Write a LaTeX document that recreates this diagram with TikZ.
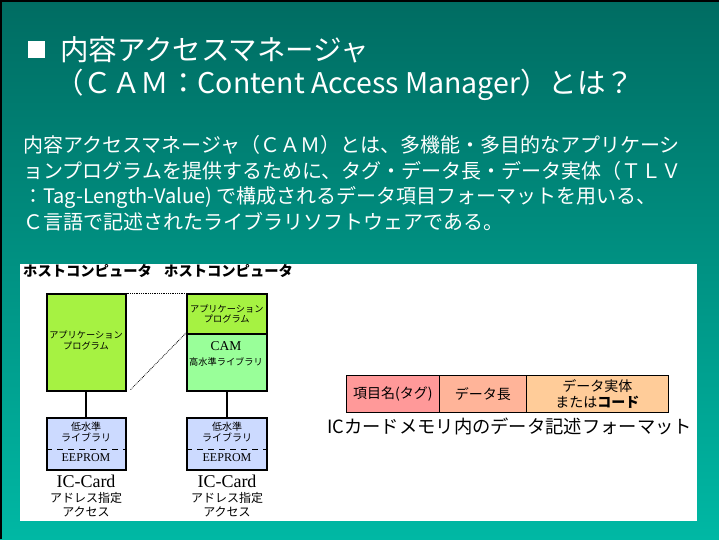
\documentclass[tikz,border=0pt]{standalone}
\usepackage{fontspec}
\setmainfont{Noto Sans CJK JP}
\newfontfamily\serifjp{Liberation Serif}
\usetikzlibrary{calc}
\definecolor{tealtop}{RGB}{0,108,98}
\definecolor{tealbot}{RGB}{0,184,164}
\definecolor{appgreen}{RGB}{166,242,66}
\definecolor{camgreen}{RGB}{153,255,153}
\definecolor{libblue}{RGB}{204,218,255}
\definecolor{tagpink}{RGB}{255,153,153}
\definecolor{lenpink}{RGB}{255,180,153}
\definecolor{valpeach}{RGB}{255,204,153}
\tikzset{
  boxbase/.style={draw=black, line width=1.6pt, inner sep=0pt, anchor=north west},
  appbox/.style={boxbase, fill=appgreen},
  cambox/.style={boxbase, fill=camgreen},
  libbox/.style={boxbase, fill=libblue},
  cell/.style={draw=black, line width=0.8pt, inner sep=0pt, anchor=north west, minimum height=37},
  txt/.style={inner sep=0pt, align=center},
  wtxt/.style={inner sep=0pt, anchor=west, text=white},
  link/.style={line width=1.8pt},
  dotlink/.style={densely dotted, line width=0.8pt}
}
\begin{document}
\begin{tikzpicture}[x=1pt,y=-1pt]
\useasboundingbox (0,0) rectangle (719,539);
\shade[top color=tealtop, bottom color=tealbot] (0,0) rectangle (719,539);
\draw[line width=2pt] (1,539) -- (1,1) -- (719,1);
% title
\node[fill=white, minimum size=17pt, inner sep=0pt] (sq) at (36.5,49) {};
\node[wtxt, font=\fontsize{28.5}{30}\selectfont] (t1) at (60,50) {内容アクセスマネージャ};
\node[wtxt, font=\fontsize{28.5}{30}\selectfont] (t2) at (55,85) {（ＣＡＭ：Content Access Manager）とは？};
% body
\node[wtxt, font=\fontsize{20}{22}\selectfont] (b1) at (23,145) {内容アクセスマネージャ（ＣＡＭ）とは、多機能・多目的なアプリケーシ};
\node[wtxt, font=\fontsize{20}{22}\selectfont] (b2) at (23,171) {ョンプログラムを提供するために、タグ・データ長・データ実体（ＴＬＶ};
\node[wtxt, font=\fontsize{20}{22}\selectfont] (b3) at (23,197) {：Tag-Length-Value) で構成されるデータ項目フォーマットを用いる、};
\node[wtxt, font=\fontsize{20}{22}\selectfont] (b4) at (23,221.5) {Ｃ言語で記述されたライブラリソフトウェアである。};
% panel
\fill[white] (20,264) rectangle (697,521);
\node[inner sep=0pt, anchor=west, font=\fontsize{14.3}{15}\selectfont\bfseries] (host1) at (23,271) {ホストコンピュータ};
\node[inner sep=0pt, anchor=west, font=\fontsize{14.3}{15}\selectfont\bfseries] (host2) at (164,271) {ホストコンピュータ};
% left stack
\node[appbox, minimum width=79pt, minimum height=97pt] (app1) at (46,293) {};
\node[txt, font=\fontsize{9.2}{11}\selectfont] (app1t) at (86,340) {アプリケーション\\プログラム};
\node[libbox, minimum width=79pt, minimum height=52pt] (lib1) at (46,417) {};
\node[txt, font=\fontsize{10}{11.5}\selectfont] (lib1t) at (86,432) {低水準\\ライブラリ};
\node[txt, font=\serifjp\fontsize{12}{13}\selectfont] (ee1) at (86,458) {EEPROM};
\draw[dashed, dash pattern=on 6pt off 5pt, line width=0.7pt] ($(lib1.north west)!0.6!(lib1.south west)$) -- ($(lib1.north east)!0.6!(lib1.south east)$);
\draw[link] (app1.south) -- (lib1.north);
\node[txt, font=\serifjp\fontsize{18}{20}\selectfont] (ic1) at (86,481) {IC-Card};
\node[txt, font=\fontsize{12}{14}\selectfont] (ad1) at (86,505) {アドレス指定\\アクセス};
% right stack
\node[appbox, minimum width=80pt, minimum height=40pt] (app2) at (186,293) {};
\node[txt, font=\fontsize{9.2}{10.5}\selectfont] (app2t) at (app2.center) {アプリケーション\\プログラム};
\node[cambox, minimum width=80pt, minimum height=57pt] (cam) at (186,333) {};
\node[txt, font=\serifjp\fontsize{13.5}{15}\selectfont] (camt) at (226,346) {CAM};
\node[txt, font=\fontsize{9.2}{11}\selectfont] (camt2) at (226,362) {高水準ライブラリ};
\node[libbox, minimum width=80pt, minimum height=52pt] (lib2) at (186,417) {};
\node[txt, font=\fontsize{10}{11.5}\selectfont] (lib2t) at (227,432) {低水準\\ライブラリ};
\node[txt, font=\serifjp\fontsize{12}{13}\selectfont] (ee2) at (227,458) {EEPROM};
\draw[dashed, dash pattern=on 6pt off 5pt, line width=0.7pt] ($(lib2.north west)!0.6!(lib2.south west)$) -- ($(lib2.north east)!0.6!(lib2.south east)$);
\draw[link] (cam.south) -- (lib2.north);
\node[txt, font=\serifjp\fontsize{18}{20}\selectfont] (ic2) at (227,481) {IC-Card};
\node[txt, font=\fontsize{12}{14}\selectfont] (ad2) at (227,505) {アドレス指定\\アクセス};
% dotted links
\coordinate (dl) at ($(app1.south east)+(4,-2)$);
\draw[dotlink] (app1.north east) -- (app2.north west);
\draw[dotlink] (dl) -- (cam.north west);
% format table
\node[cell, fill=tagpink, minimum width=93pt] (tag) at (346,375) {};
\node[cell, fill=lenpink, minimum width=87pt] (len) at (439,375) {};
\node[cell, fill=valpeach, minimum width=142pt] (val) at (526,375) {};
\node[txt, font=\fontsize{14}{16}\selectfont] (tagt) at (tag.center) {項目名(タグ)};
\node[txt, font=\fontsize{14}{16}\selectfont] (lent) at (len.center) {データ長};
\node[txt, font=\fontsize{14}{16}\selectfont] (valt) at (val.center) {データ実体\\または\textbf{コード}};
\node[inner sep=0pt, anchor=west, font=\fontsize{18.3}{20}\selectfont] (cap) at (327,426) {ICカードメモリ内のデータ記述フォーマット};
\end{tikzpicture}
\end{document}
